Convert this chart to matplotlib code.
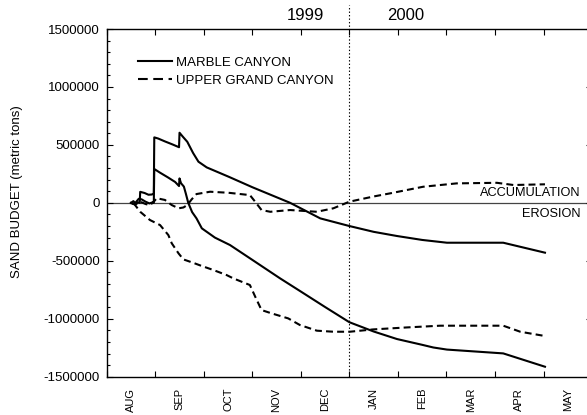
import matplotlib
matplotlib.use("Agg")
import matplotlib.pyplot as plt
from matplotlib.lines import Line2D
import numpy as np

plt.rcParams["font.family"] = ["Liberation Sans", "DejaVu Sans"]
plt.rcParams["lines.scale_dashes"] = False

# x = months since 1 Aug 1999, y = sand budget (metric tons)
months = ["AUG", "SEP", "OCT", "NOV", "DEC", "JAN", "FEB", "MAR", "APR", "MAY"]

mc_hi_x = [0.50, 0.55, 0.60, 0.64, 0.68, 0.69, 0.78, 0.86, 0.93, 0.97, 0.98, 1.06,
           1.20, 1.35, 1.49, 1.50, 1.57, 1.66, 1.78, 1.89, 2.06, 2.52, 3.00, 3.78,
           4.40, 5.00, 5.50, 5.98, 6.50, 7.01, 8.17, 9.03]
mc_hi_y = [0, 15000, -10000, 5000, 0, 95000, 85000, 70000, 72000, 80000, 565000,
           555000, 530000, 505000, 480000, 605000, 570000, 527000, 430000, 355000,
           306000, 224000, 135000, 0, -134000, -200000, -250000, -286000, -320000,
           -344000, -344000, -430000]

mc_lo_x = [0.50, 0.55, 0.60, 0.66, 0.72, 0.80, 0.88, 0.95, 0.97, 0.98, 1.10, 1.26,
           1.41, 1.49, 1.50, 1.53, 1.59, 1.63, 1.68, 1.76, 1.85, 1.96, 2.23, 2.54,
           3.00, 3.57, 3.98, 4.50, 5.00, 5.50, 5.98, 6.50, 6.73, 7.01, 8.17, 9.03]
mc_lo_y = [0, -10000, 5000, 35000, 30000, 10000, -5000, 5000, 0, 292000, 260000,
           220000, 180000, 145000, 211000, 170000, 140000, 80000, 0, -80000, -134000,
           -220000, -300000, -364000, -492000, -651000, -760000, -899000, -1030000,
           -1110000, -1175000, -1225000, -1248000, -1266000, -1299000, -1414000]

ugc_hi_x = [0.50, 0.58, 0.69, 0.80, 0.89, 0.97, 1.03, 1.20, 1.34, 1.48, 1.58, 1.66,
            1.75, 1.85, 2.13, 2.51, 2.95, 3.06, 3.19, 3.37, 3.78, 4.33, 4.67, 5.00,
            5.50, 5.84, 6.52, 7.21, 8.04, 8.38, 9.03]
ugc_hi_y = [0, -15000, 10000, -10000, -20000, 10000, 40000, 25000, -19000, -47000,
            -40000, -19000, 30000, 76000, 96000, 87000, 67000, 9000, -62000, -77000,
            -62000, -77000, -47000, 10000, 55000, 82000, 139000, 168000, 173000,
            154000, 160000]

ugc_lo_x = [0.55, 0.69, 0.89, 1.10, 1.27, 1.34, 1.48, 1.58, 1.78, 1.96, 2.20, 2.47,
            2.61, 2.95, 3.06, 3.19, 3.40, 3.74, 3.98, 4.33, 4.67, 5.01, 5.49, 6.18,
            6.87, 8.17, 8.52, 9.03]
ugc_lo_y = [0, -77000, -148000, -192000, -278000, -349000, -436000, -488000, -517000,
            -545000, -580000, -623000, -652000, -709000, -810000, -925000, -954000,
            -997000, -1054000, -1103000, -1112000, -1112000, -1092000, -1075000,
            -1060000, -1060000, -1112000, -1149000]

DASH = (0, (5, 3))

fig = plt.figure(figsize=(5.87, 4.15), dpi=100)
ax = fig.add_axes([0.1818, 0.0923, 0.8268, 0.8378])

ax.plot(mc_hi_x, mc_hi_y, color="black", lw=1.5)
ax.plot(mc_lo_x, mc_lo_y, color="black", lw=1.5)
ax.plot(ugc_hi_x, ugc_hi_y, color="black", lw=1.5, ls=DASH)
ax.plot(ugc_lo_x, ugc_lo_y, color="black", lw=1.5, ls=DASH)

ax.axhline(0, color="#444444", lw=0.9, zorder=1)
# year boundary, runs up past the frame
ax.plot([5, 5], [0, 1.07], transform=ax.get_xaxis_transform(), clip_on=False,
        color="black", lw=0.8, ls=(0, (1, 1.5)))

ax.set_xlim(0, 10)
ax.set_ylim(-1500000, 1500000)
ax.set_xticks(np.arange(0, 11))
ax.set_xticklabels([])
ax.set_xticks(np.arange(0.5, 10), minor=True)
ax.set_xticklabels(months, minor=True, rotation=90, fontsize=8)
ax.tick_params(axis="x", which="major", direction="in", length=4, width=0.8,
               top=True)
ax.tick_params(axis="x", which="minor", length=0, pad=8)

ax.set_yticks(np.arange(-1500000, 1500001, 500000))
ax.set_yticklabels([f"{v:d}" for v in range(-1500000, 1500001, 500000)])
ax.set_yticks(np.arange(-1500000, 1500001, 100000), minor=True)
ax.tick_params(axis="y", which="major", direction="in", length=4, width=0.8,
               right=True, labelsize=9.5, pad=5)
ax.tick_params(axis="y", which="minor", direction="in", length=2.5, width=0.8,
               right=True)
for s in ax.spines.values():
    s.set_linewidth(1.0)

fig.text(16.7 / 587, 1 - 191.5 / 415, "SAND BUDGET (metric tons)", rotation=90,
         ha="center", va="center", fontsize=9.5)

ax.text(4.09, 1.04, "1999", transform=ax.get_xaxis_transform(), ha="center",
        va="center", fontsize=12)
ax.text(6.16, 1.04, "2000", transform=ax.get_xaxis_transform(), ha="center",
        va="center", fontsize=12)
ax.text(9.77, 85000, "ACCUMULATION", ha="right", va="center", fontsize=9.2)
ax.text(9.77, -98000, "EROSION", ha="right", va="center", fontsize=9.2)

handles = [Line2D([], [], color="black", lw=1.5),
           Line2D([], [], color="black", lw=1.5, ls=(0, (7, 4)))]
ax.legend(handles, ["MARBLE CANYON", "UPPER GRAND CANYON"], loc="upper left",
          bbox_to_anchor=(138 / 587, 1 - 56.5 / 415), bbox_transform=fig.transFigure,
          frameon=False, fontsize=9.5, borderpad=0, borderaxespad=0,
          handlelength=2.6, handletextpad=0.25, labelspacing=0.45)

fig.savefig("out.png", dpi=100)
